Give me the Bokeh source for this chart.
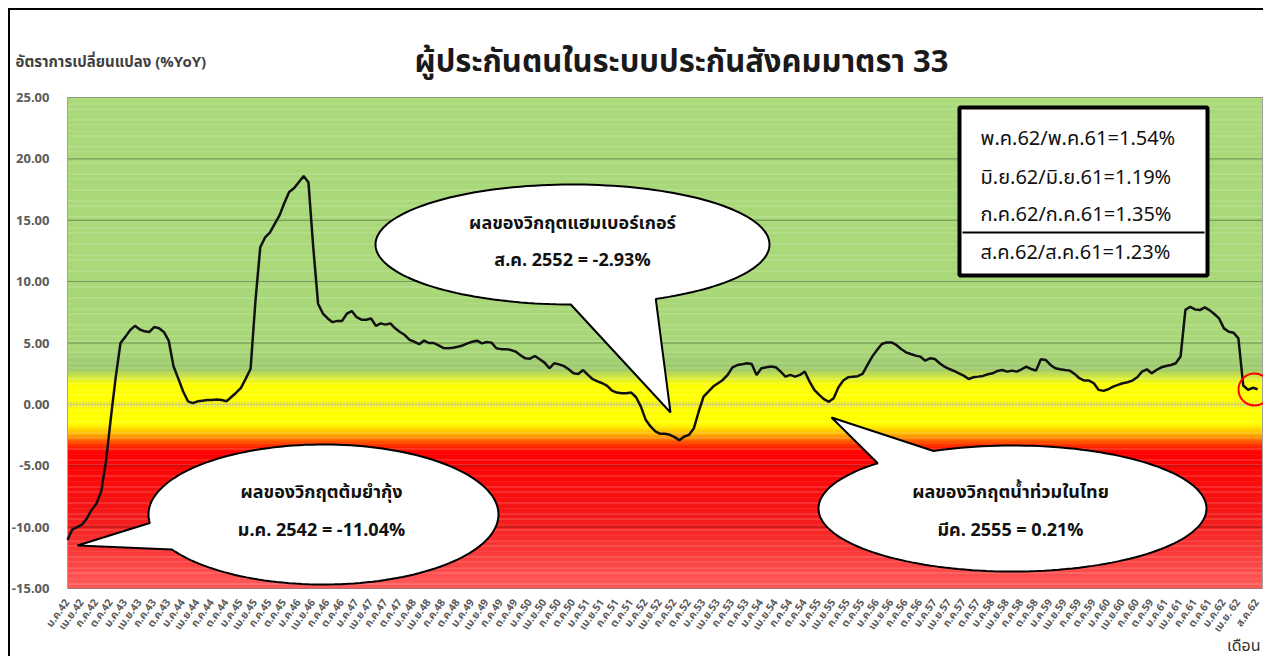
import numpy as np
from bokeh.plotting import figure
from bokeh.models import Range1d, FixedTicker, Label, PrintfTickFormatter
from bokeh.embed import file_html
from bokeh.resources import INLINE

# ---------------- data (monthly %YoY, Jan 2542 .. Aug 2562) ----------------
y2542 = [-11.04, -10.2, -10.0, -9.8, -9.3, -8.6, -8.1, -7.1, -4.6, -1.1, 2.2, 5.0]
y2543 = [5.5, 6.05, 6.4, 6.1, 5.95, 5.9, 6.3, 6.2, 5.9, 5.2, 3.1, 2.1]
y2544 = [1.05, 0.25, 0.1, 0.25, 0.3, 0.35, 0.35, 0.4, 0.35, 0.25, 0.6, 0.95]
y2545 = [1.35, 2.1, 2.9, 8.4, 12.8, 13.6, 14.0, 14.7, 15.4, 16.4, 17.3, 17.6]
y2546 = [18.1, 18.6, 18.1, 12.8, 8.2, 7.4, 7.0, 6.7, 6.8, 6.8, 7.4, 7.6]
y2547 = [7.1, 6.9, 6.9, 7.0, 6.4, 6.6, 6.5, 6.6, 6.2, 5.9, 5.65, 5.25]
y2548 = [5.1, 4.9, 5.2, 5.0, 5.0, 4.8, 4.6, 4.57, 4.62, 4.7, 4.8, 4.97]
y2549 = [5.1, 5.19, 4.97, 5.08, 5.03, 4.57, 4.5, 4.5, 4.43, 4.3, 4.0, 3.75]
y2550 = [3.72, 3.94, 3.67, 3.4, 2.94, 3.35, 3.26, 3.13, 2.86, 2.53, 2.48, 2.8]
y2551 = [2.4, 2.05, 1.87, 1.72, 1.5, 1.12, 0.96, 0.91, 0.91, 0.96, 0.58, -0.18]
y2552 = [-1.26, -1.8, -2.2, -2.4, -2.4, -2.48, -2.67, -2.93, -2.62, -2.48, -1.94, -0.58]
y2553 = [0.64, 1.04, 1.45, 1.72, 1.99, 2.4, 3.02, 3.2, 3.26, 3.35, 3.29, 2.4]
y2554 = [2.94, 3.02, 3.08, 3.02, 2.67, 2.26, 2.4, 2.26, 2.4, 2.67, 1.86, 1.18]
y2555 = [0.77, 0.42, 0.21, 0.5, 1.39, 1.94, 2.21, 2.26, 2.3, 2.48, 3.2, 3.89]
y2556 = [4.43, 4.92, 5.05, 5.05, 4.84, 4.51, 4.24, 4.1, 3.97, 3.89, 3.56, 3.75]
y2557 = [3.7, 3.35, 3.07, 2.88, 2.72, 2.53, 2.34, 2.07, 2.21, 2.26, 2.32, 2.45]
y2558 = [2.53, 2.72, 2.8, 2.67, 2.75, 2.67, 2.86, 3.07, 2.88, 2.75, 3.67, 3.62]
y2559 = [3.21, 2.94, 2.86, 2.8, 2.75, 2.48, 2.13, 1.94, 1.94, 1.72, 1.18, 1.1]
y2560 = [1.23, 1.45, 1.59, 1.72, 1.8, 1.94, 2.21, 2.67, 2.86, 2.53, 2.8, 3.02]
y2561 = [3.13, 3.21, 3.35, 3.9, 7.7, 7.95, 7.74, 7.68, 7.9, 7.68, 7.36, 7.0]
y2562 = [6.19, 5.92, 5.84, 5.38, 1.54, 1.19, 1.35, 1.23]

yoy = (y2542 + y2543 + y2544 + y2545 + y2546 + y2547 + y2548 + y2549 + y2550 + y2551
       + y2552 + y2553 + y2554 + y2555 + y2556 + y2557 + y2558 + y2559 + y2560 + y2561 + y2562)
months = list(range(len(yoy)))

tick_labels = [
    "ม.ค.42", "เม.ย.42", "ก.ค.42", "ต.ค.42", "ม.ค.43", "เม.ย.43", "ก.ค.43", "ต.ค.43",
    "ม.ค.44", "เม.ย.44", "ก.ค.44", "ต.ค.44", "ม.ค.45", "เม.ย.45", "ก.ค.45", "ต.ค.45",
    "ม.ค.46", "เม.ย.46", "ก.ค.46", "ต.ค.46", "ม.ค.47", "เม.ย.47", "ก.ค.47", "ต.ค.47",
    "ม.ค.48", "เม.ย.48", "ก.ค.48", "ต.ค.48", "ม.ค.49", "เม.ย.49", "ก.ค.49", "ต.ค.49",
    "ม.ค.50", "เม.ย.50", "ก.ค.50", "ต.ค.50", "ม.ค.51", "เม.ย.51", "ก.ค.51", "ต.ค.51",
    "ม.ค.52", "เม.ย.52", "ก.ค.52", "ต.ค.52", "ม.ค.53", "เม.ย.53", "ก.ค.53", "ต.ค.53",
    "ม.ค.54", "เม.ย.54", "ก.ค.54", "ต.ค.54", "ม.ค.55", "เม.ย.55", "ก.ค.55", "ต.ค.55",
    "ม.ค.56", "เม.ย.56", "ก.ค.56", "ต.ค.56", "ม.ค.57", "เม.ย.57", "ก.ค.57", "ต.ค.57",
    "ม.ค.58", "เม.ย.58", "ก.ค.58", "ต.ค.58", "ม.ค.59", "เม.ย.59", "ก.ค.59", "ต.ค.59",
    "ม.ค.60", "เม.ย.60", "ก.ค.60", "ต.ค.59", "ม.ค.61", "เม.ย.61", "ก.ค.61", "ต.ค.61",
    "ม.ค.62", "เม.ย. 62", "ส.ค.62",
]
y_ticks = [-15, -10, -5, 0, 5, 10, 15, 20, 25]

title_text = "ผู้ประกันตนในระบบประกันสังคมมาตรา 33"
ytitle_text = "อัตราการเปลี่ยนแปลง (%YoY)"
xtitle_text = "เดือน"
box_lines = ["พ.ค.62/พ.ค.61=1.54%", "มิ.ย.62/มิ.ย.61=1.19%", "ก.ค.62/ก.ค.61=1.35%", "ส.ค.62/ส.ค.61=1.23%"]
note1 = ["ผลของวิกฤตต้มยำกุ้ง", "ม.ค. 2542 = -11.04%"]
note2 = ["ผลของวิกฤตแฮมเบอร์เกอร์", "ส.ค. 2552 = -2.93%"]
note3 = ["ผลของวิกฤตน้ำท่วมในไทย", "มีค. 2555 = 0.21%"]

FONT = "Tahoma, 'Noto Sans Thai', 'Noto Sans', sans-serif"

# ---------------- geometry (pixels of the 1263 x 656 canvas) ----------------
W, H = 1263, 656
FRAME_L = 8                         # frame: x 8..1263, y 0..656
AL, AR, AT, AB = 67.0, 1262.0, 97.0, 588.0   # the coloured plot area
X_AREA = 248
SX = (AR - AL) / X_AREA
SY = (AB - AT) / 40.0

def dx(px):
    return (px - AL) / SX
def dy(py):
    return 25 - (py - AT) / SY

p = figure(width=W, height=H, x_range=Range1d(dx(FRAME_L), dx(W)), y_range=Range1d(dy(H), dy(0)),
           output_backend="svg", toolbar_location=None,
           min_border_left=FRAME_L, min_border_right=0, min_border_top=0, min_border_bottom=0,
           background_fill_color=None, border_fill_color=None,
           styles={"background-image": "linear-gradient(#000, #000), linear-gradient(#000, #000)",
                   "background-size": "2px 100%, 100% 2px", "background-repeat": "no-repeat",
                   "background-position": "8px 8px, 8px 8px", "background-color": "white"})
p.title.visible = False
p.outline_line_color = None
p.grid.visible = False

# background gradient (green -> yellow -> red)
stops = [(25, (170, 217, 122)), (4.5, (168, 215, 120)), (2.9, (156, 200, 110)),
         (2.2, (212, 233, 62)), (1.6, (255, 255, 0)), (-1.6, (255, 255, 0)),
         (-2.5, (255, 170, 0)), (-3.2, (255, 60, 0)), (-3.9, (255, 0, 0)),
         (-9.0, (244, 24, 24)), (-15, (255, 92, 92))]
sv = [s[0] for s in stops][::-1]
sc = np.array([s[1] for s in stops][::-1], dtype=float)
edges = np.arange(-15, 25, 0.1)
mids = edges + 0.05
cols = []
for m in mids:
    r = np.interp(m, sv, sc[:, 0]); g = np.interp(m, sv, sc[:, 1]); b = np.interp(m, sv, sc[:, 2])
    cols.append("#%02x%02x%02x" % (int(round(r)), int(round(g)), int(round(b))))
bg = p.quad(left=0, right=X_AREA, bottom=list(edges), top=list(np.minimum(edges + 0.13, 25)),
            fill_color=cols, line_color=None)
bg.level = "image"

# grid lines across the plot area and plot-area border
grid_vals = [t for t in y_ticks if t != 0]
p.segment(x0=[0] * len(grid_vals), x1=[X_AREA] * len(grid_vals), y0=grid_vals, y1=grid_vals,
          line_color="black", line_alpha=0.35, line_width=1)
p.segment(x0=[0, X_AREA], x1=[0, X_AREA], y0=[-15, -15], y1=[25, 25], line_color="#a0a0a0",
          line_width=1)
p.segment(x0=[0], x1=[X_AREA], y0=[0], y1=[0], line_color="#c9c38a", line_width=1,
          line_alpha=0.9)
p.segment(x0=[0], x1=[X_AREA], y0=[0], y1=[0], line_color="#c9c38a", line_width=6,
          line_alpha=0.8, line_dash="1 2")

# axes (labels pulled inside the canvas with negative standoffs)
p.yaxis.ticker = FixedTicker(ticks=y_ticks)
p.yaxis.formatter = PrintfTickFormatter(format="%.2f")
p.yaxis.major_label_text_font = FONT
p.yaxis.major_label_text_font_size = "13px"
p.yaxis.major_label_text_font_style = "bold"
p.yaxis.major_label_text_color = "#5a5a5a"
p.yaxis.major_label_standoff = -41
p.yaxis.major_tick_out = 0
p.yaxis.major_tick_in = 0
p.yaxis.minor_tick_out = 0
p.yaxis.minor_tick_in = 0
p.yaxis.axis_line_color = None
p.yaxis.major_tick_line_color = None
p.yaxis.minor_tick_line_color = None

tick_pos = [3 * k for k in range(len(tick_labels) - 1)] + [months[-1]]
p.xaxis.ticker = FixedTicker(ticks=tick_pos)
p.xaxis.major_label_overrides = {pos: lab for pos, lab in zip(tick_pos, tick_labels)}
p.xaxis.major_label_orientation = 0.95
p.xaxis.major_label_text_font = FONT
p.xaxis.major_label_text_font_size = "10.5px"
p.xaxis.major_label_text_font_style = "bold"
p.xaxis.major_label_text_color = "#5a5a5a"
p.xaxis.major_label_standoff = -56
p.xaxis.major_tick_out = 0
p.xaxis.major_tick_in = 0
p.xaxis.minor_tick_out = 0
p.xaxis.minor_tick_in = 0
p.xaxis.axis_line_color = None
p.xaxis.major_tick_line_color = None
p.xaxis.minor_tick_line_color = None

# data line
p.line(months, yoy, line_color="#111111", line_width=2.5)

# speech bubbles
def bubble(cx, cy, a, b, ta, tb, tip):
    ts = np.radians(np.linspace(tb, ta + 360, 160))
    px = [tip[0]] + list(cx + a * np.cos(ts))
    py = [tip[1]] + list(cy + b * np.sin(ts))
    return [dx(v) for v in px], [dy(v) for v in py]

for (cx, cy, a, b, ta, tb, tip), lines, (tx, ty1, ty2) in [
        ((323, 514, 175, 70, 150, 173, (77, 545)), note1, (321, 492, 530)),
        ((572, 244, 197, 60, 65, 90.5, (670, 412)), note2, (572, 223, 260)),
        ((1012, 508, 194, 63, 226, 246, (831, 417)), note3, (1010, 492, 530))]:
    xs, ys = bubble(cx, cy, a, b, ta, tb, tip)
    p.patch(xs, ys, fill_color="white", line_color="black", line_width=2)
    for txt, ty in zip(lines, (ty1, ty2)):
        p.add_layout(Label(x=dx(tx), y=dy(ty), text=txt, text_align="center", text_baseline="middle",
                           text_font=FONT, text_font_size="18px", text_font_style="bold",
                           text_color="#111111"))

# info box
p.quad(left=dx(959), right=dx(1207), top=dy(107), bottom=dy(275), fill_color="white",
       line_color="black", line_width=4)
p.line([dx(962), dx(1204)], [dy(232), dy(232)], line_color="black", line_width=2)
for txt, ty in zip(box_lines, (138, 177, 214, 252)):
    p.add_layout(Label(x=dx(980), y=dy(ty), text=txt, text_align="left", text_baseline="middle",
                       text_font=FONT, text_font_size="20px", text_color="#111111"))

# red highlight circle
p.scatter([dx(1254)], [dy(389)], marker="circle", size=32, fill_alpha=0, line_color="red",
          line_width=2)

# titles
p.add_layout(Label(x=dx(681), y=dy(62), text=title_text, text_align="center", text_baseline="middle",
                   text_font=FONT, text_font_size="31px", text_font_style="bold", text_color="#1a1a1a"))
p.add_layout(Label(x=dx(15), y=dy(62), text=ytitle_text, text_align="left", text_baseline="middle",
                   text_font=FONT, text_font_size="15px", text_font_style="bold", text_color="#404040"))
p.add_layout(Label(x=dx(1260), y=dy(645), text=xtitle_text, text_align="right", text_baseline="middle",
                   text_font=FONT, text_font_size="16px", text_color="#333333"))

open("out.html", "w").write(file_html(p, INLINE))
